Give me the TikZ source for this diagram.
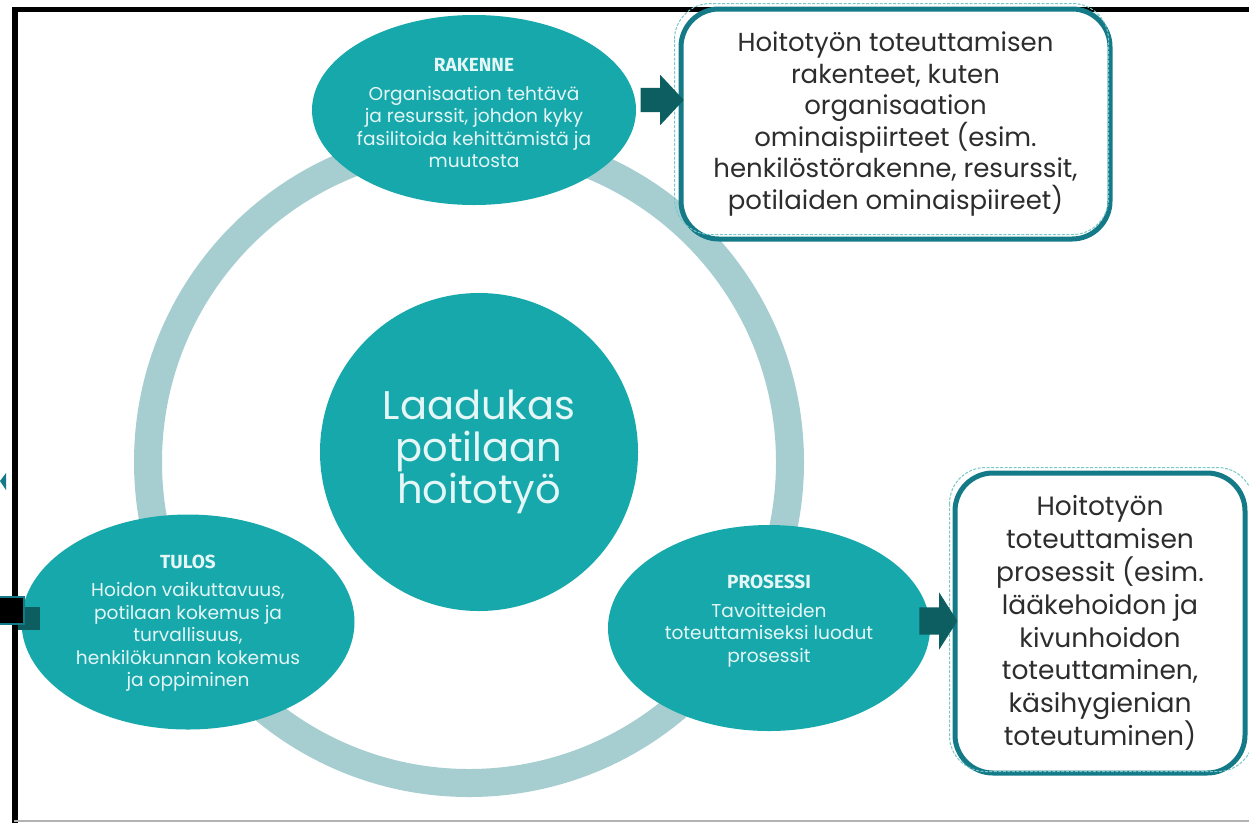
\documentclass[tikz,border=0pt]{standalone}
\usepackage{fontspec}
\setmainfont{Poppins}
\newfontfamily\titlefont{Fira Sans}
\usetikzlibrary{shapes.geometric,shapes.arrows}
\definecolor{tealA}{RGB}{23,168,171}
\definecolor{ringC}{RGB}{166,206,208}
\definecolor{arrowC}{RGB}{12,94,96}
\definecolor{borderC}{RGB}{20,122,136}
\definecolor{dashC}{RGB}{120,200,200}
\definecolor{lightT}{RGB}{228,246,246}
\definecolor{boxT}{RGB}{45,45,45}
\tikzset{
  bubble/.style={ellipse, fill=tealA, inner sep=0pt},
  bubtext/.style={align=center, text=lightT, font=\fontsize{18.6}{22.5}\selectfont, inner sep=0pt},
  infobox/.style={draw=borderC, line width=5pt, fill=white, rounded corners=38pt, align=center, text=boxT, inner sep=0pt},
  outline/.style={draw=dashC, dashed, dash pattern=on 3pt off 1.5pt, line width=1pt},
  blockarrow/.style={single arrow, fill=arrowC, inner sep=0pt, single arrow head indent=0pt}
}
\newcommand{\bubtitle}[1]{{\titlefont\bfseries\fontsize{19}{22}\selectfont #1}}
\begin{document}
\begin{tikzpicture}[x=1pt,y=-1pt]
\useasboundingbox (0,0) rectangle (1249,823);
\fill[white] (0,0) rectangle (1249,823);
% frame
\fill[black] (12,6.5) rectangle (1249,12);
\fill[black] (12,6.5) rectangle (17.5,823);
\draw[black!30, line width=1.5pt] (14,821) -- (1249,821);
% ring
\draw[ringC, line width=28pt] (469,462) circle[radius=321];
% bubbles
\node[bubble, minimum width=324, minimum height=190] (rakenne) at (474,110) {};
\node[bubble, minimum width=333, minimum height=215] (tulos) at (188,622) {};
\node[bubble, minimum width=322, minimum height=206] (prosessi) at (769,628) {};
\node[circle, fill=tealA, minimum size=318, inner sep=0pt] (center) at (479,452) {};
% bubble texts
\node[bubtext] (rakenneT) at (474,113) {\bubtitle{RAKENNE}\\[6pt]
  Organisaation tehtävä\\ja resurssit, johdon kyky\\fasilitoida kehittämistä ja\\muutosta};
\node[bubtext] (tulosT) at (188,623) {\bubtitle{TULOS}\\[6pt]
  Hoidon vaikuttavuus,\\potilaan kokemus ja\\turvallisuus,\\henkilökunnan kokemus\\ja oppiminen};
\node[bubtext] (prosessiT) at (769,621) {\bubtitle{PROSESSI}\\[6pt]
  Tavoitteiden\\toteuttamiseksi luodut\\prosessit};
\node[align=center, text=lightT, font=\fontsize{40}{42}\selectfont, inner sep=0pt] (centerT) at (479,452) {Laadukas\\potilaan\\hoitotyö};
% info boxes
\node[infobox, minimum width=429, minimum height=230, font=\fontsize{26}{31.6}\selectfont] (box1) at (895.5,124) {Hoitotyön toteuttamisen\\rakenteet, kuten\\organisaation\\ominaispiirteet (esim.\\henkilöstörakenne, resurssit,\\potilaiden ominaispiireet)};
\draw[outline, rounded corners=36pt] ([shift={(-4,-3)}]box1.north west) rectangle ([shift={(-4,-7)}]box1.south east);
\node[infobox, minimum width=290, minimum height=300, font=\fontsize{26.5}{32.9}\selectfont] (box2) at (1100,623) {Hoitotyön\\toteuttamisen\\prosessit (esim.\\lääkehoidon ja\\kivunhoidon\\toteuttaminen,\\käsihygienian\\toteutuminen)};
\draw[outline, rounded corners=36pt] ([shift={(-3,-3)}]box2.north west) rectangle ([shift={(6,-4)}]box2.south east);
% arrows
\node[blockarrow, minimum height=43, minimum width=50, single arrow head extend=13, single arrow tip angle=94, inner ysep=12] (arr1) at (656.5,100) {};
\node[blockarrow, minimum height=38, minimum width=57, single arrow head extend=15, single arrow tip angle=115, inner ysep=13.5] (arr2) at (934,621) {};
% left edge fragments
\fill[arrowC] (18,607) rectangle (40,630);
\filldraw[fill=black, draw=borderC, line width=1.5pt] (-3,597) rectangle (24,624);
\fill[borderC] (0,481) -- (6,473) -- (6,490) -- cycle;
\end{tikzpicture}
\end{document}
